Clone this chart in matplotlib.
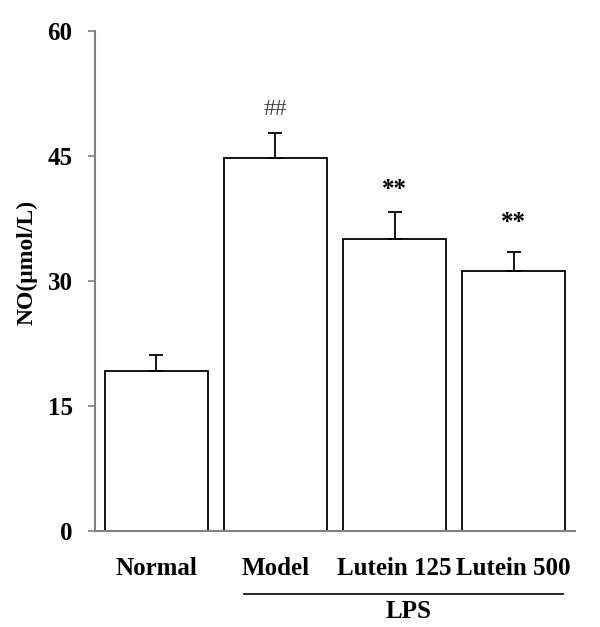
import matplotlib.pyplot as plt

# data
groups = ["Normal", "Model", "Lutein 125", "Lutein 500"]
no_mean = [19.2, 44.7, 35.0, 31.2]
no_err = [1.9, 3.1, 3.3, 2.3]
marks = ["", "##", "**", "**"]
mark_y = [None, 50.6, 41.0, 37.0]
yticks = [0, 15, 30, 45, 60]

plt.rcParams["font.family"] = ["Liberation Serif", "DejaVu Serif"]

fig = plt.figure(figsize=(6.0, 6.27), dpi=100)
ax = fig.add_axes([0.158, 0.1531, 0.80, 0.7975])

x = list(range(len(groups)))
ax.bar(x, no_mean, width=0.86, color="white", edgecolor="black", linewidth=1.3, zorder=2)
ax.errorbar(x, no_mean, yerr=[[0] * len(no_err), no_err], fmt="none",
            ecolor="black", elinewidth=1.3, capsize=5, capthick=1.3, zorder=3)

for xi, m, my in zip(x, marks, mark_y):
    if not m:
        continue
    if m == "##":
        ax.text(xi, my, m, ha="center", va="center", fontsize=17, color="#444444")
    else:
        ax.text(xi, my, m, ha="center", va="center", fontsize=18, fontweight="bold")

ax.set_xlim(-0.517, 3.513)
ax.set_ylim(0, 60)
ax.set_yticks(yticks)
ax.set_yticklabels([str(t) for t in yticks], fontsize=18, fontweight="bold")
ax.set_xticks(x)
ax.set_xticklabels(groups, fontsize=18, fontweight="bold")
ax.tick_params(axis="x", length=0, pad=19)
ax.tick_params(axis="y", length=5, width=1.2, color="#808080", pad=11)

for side in ["top", "right"]:
    ax.spines[side].set_visible(False)
for side in ["left", "bottom"]:
    ax.spines[side].set_color("#808080")
    ax.spines[side].set_linewidth(1.5)

ax.set_ylabel("NO(μmol/L)", fontsize=17, fontweight="bold")
ax.yaxis.set_label_coords(-0.12, 0.538)

# LPS bracket under the three treated groups
fig.lines.append(plt.Line2D([244 / 600, 563 / 600], [1 - 594 / 627, 1 - 594 / 627],
                            color="black", linewidth=1.2, transform=fig.transFigure))
fig.text(409 / 600, 1 - 611 / 627, "LPS", ha="center", va="center",
         fontsize=18, fontweight="bold")

fig.savefig("out.png", dpi=100)
